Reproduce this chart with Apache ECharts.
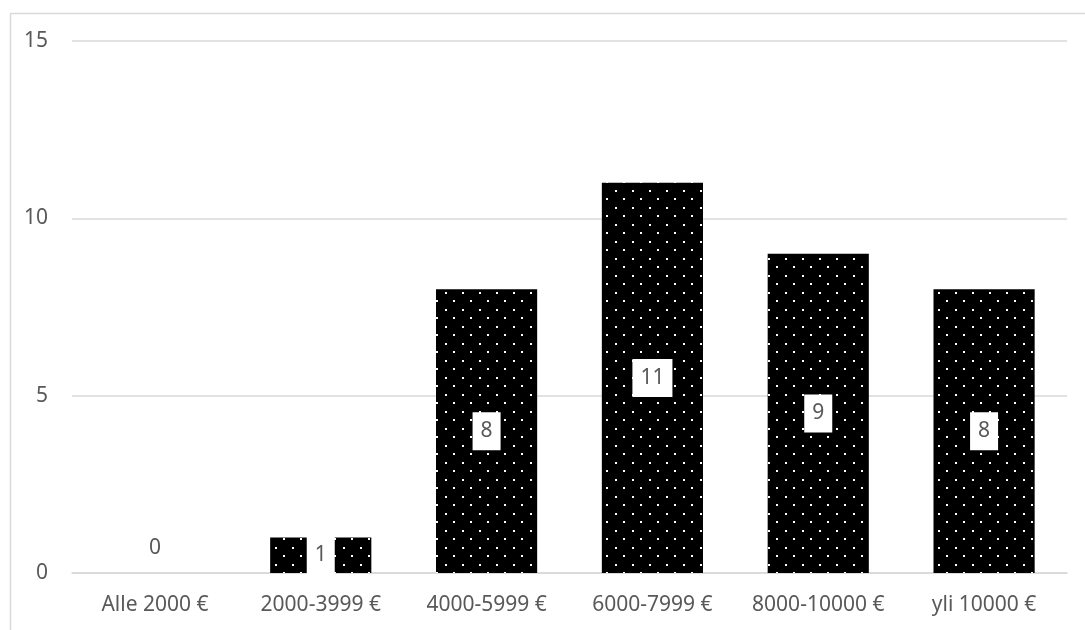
<!DOCTYPE html>
<html>
<head>
<meta charset="utf-8">
<script src="https://cdn.jsdelivr.net/npm/echarts@6/dist/echarts.min.js"></script>
<style>
  html, body { margin: 0; padding: 0; background: #fff; }
  #chart { width: 1085px; height: 630px; }
</style>
</head>
<body>
<div id="chart"></div>
<script>
// Income brackets and respondent counts
const categories = ['Alle 2000 €', '2000-3999 €', '4000-5999 €', '6000-7999 €', '8000-10000 €', 'yli 10000 €'];
const counts = [0, 1, 8, 11, 9, 8];
const yTicks = [0, 5, 10, 15];

const FONT = '"Noto Sans", sans-serif';
const TEXT = '#595959';

// Black fill with a staggered grid of small white dots
function dotPattern() {
  const c = document.createElement('canvas');
  c.width = 17; c.height = 17;
  const g = c.getContext('2d');
  g.fillStyle = '#000';
  g.fillRect(0, 0, 17, 17);
  g.fillStyle = '#fff';
  g.fillRect(3, 3, 2, 2);
  g.fillRect(11, 11, 2, 2);
  return c;
}
const pattern = { image: dotPattern(), repeat: 'repeat' };

const barData = counts.map((v) => {
  const item = { value: v };
  if (v === 0) {
    item.label = { position: 'top', distance: 6 };
  }
  return item;
});

const chart = echarts.init(document.getElementById('chart'), null, { renderer: 'canvas' });
chart.setOption({
  animation: false,
  backgroundColor: '#fff',
  graphic: [{
    type: 'rect',
    left: 8, top: 11,
    shape: { width: 1200, height: 800 },
    style: { fill: 'none', stroke: '#d9d9d9', lineWidth: 1.5 },
    silent: true, z: -1
  }],
  grid: { left: 72, right: 18, top: 41, bottom: 57, containLabel: false },
  xAxis: {
    type: 'category',
    data: categories,
    axisLine: { show: true, lineStyle: { color: '#d9d9d9', width: 1.5 } },
    axisTick: { show: false },
    axisLabel: { color: TEXT, fontFamily: FONT, fontSize: 21, margin: 22, interval: 0, hideOverlap: false }
  },
  yAxis: {
    type: 'value',
    min: yTicks[0],
    max: yTicks[yTicks.length - 1],
    interval: yTicks[1] - yTicks[0],
    axisLine: { show: false },
    axisTick: { show: false },
    splitLine: { lineStyle: { color: '#d9d9d9', width: 1.5 } },
    axisLabel: { color: TEXT, fontFamily: FONT, fontSize: 21, margin: 24 }
  },
  series: [{
    type: 'bar',
    data: barData,
    barCategoryGap: '39%',
    itemStyle: { color: pattern },
    label: {
      show: true,
      position: 'inside',
      color: TEXT,
      fontFamily: FONT,
      fontSize: 21,
      lineHeight: 22,
      backgroundColor: '#fff',
      padding: [8, 8]
    }
  }]
});
</script>
</body>
</html>
